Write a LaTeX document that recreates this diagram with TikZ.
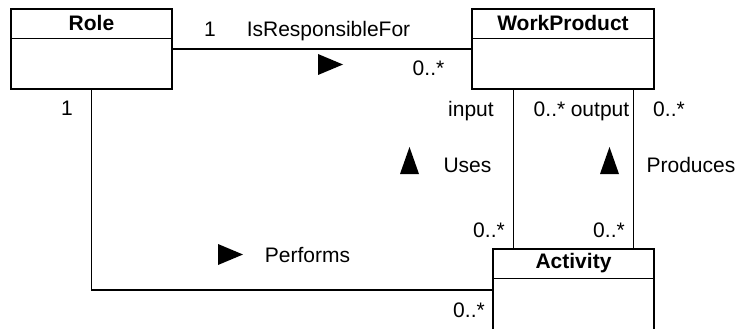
\documentclass[tikz,border=0pt]{standalone}
\usepackage{fontspec}
\setmainfont{Liberation Sans}
\usetikzlibrary{positioning}

\tikzset{
  umlclass/.style={draw, line width=1.5pt, minimum height=80pt, inner sep=0pt},
  clsname/.style={minimum height=30pt, inner sep=0pt, font=\fontsize{21}{25}\selectfont\bfseries},
  assoc/.style={line width=1.4pt},
  lbl/.style={inner sep=0pt, anchor=base, font=\fontsize{21}{25}\selectfont},
}

\begin{document}
\begin{tikzpicture}[x=1pt, y=-1pt]
        \useasboundingbox (0,0) rectangle (740,329);

        % 三个类框
        \node[umlclass, minimum width=161pt] (role) at (91.5,49) {};
        \node[umlclass, minimum width=182pt] (wp) at (563,49) {};
        \node[umlclass, minimum width=161pt, minimum height=82pt] (act) at (573.5,290) {};

        % 类名和分隔线
        \foreach \cls/\txt in {role/Role, wp/WorkProduct, act/Activity}
            {
                \node[clsname, below=0pt of \cls.north] (\cls-name) {\txt};
                \draw[assoc] (\cls-name.south -| \cls.west) -- (\cls-name.south -| \cls.east);
            }

        % 关联线
        \coordinate (uses-end) at ([xshift=21pt]act.north west);
        \coordinate (prod-end) at ([xshift=-21pt]act.north east);
        \draw[assoc] (role.east) -- (wp.west);
        \draw[assoc] (role.south) |- (act.west);
        \draw[assoc] (uses-end) -- (uses-end |- wp.south);
        \draw[assoc] (prod-end) -- (prod-end |- wp.south);

        % 方向三角
        \foreach \x/\y in {318/54, 218/244}
            \fill (\x,\y) -- ++(25,10.5) -- ++(-25,10.5) -- cycle;
        \foreach \x in {400, 600}
            \fill (\x,174) -- ++(9.5,-27) -- ++(9.5,27) -- cycle;

        % 角色名和多重性
        \node[lbl] (resp-mult) at (210,37) {1};
        \node[lbl] (resp) at (328.5,37) {IsResponsibleFor};
        \node[lbl] (resp-multwp) at (428.5,76) {0..*};
        \node[lbl] (perf-mult) at (67,116) {1};
        \node[lbl] (input) at (471,117) {input};
        \node[lbl] (uses-mult) at (549.5,117) {0..*};
        \node[lbl] (output) at (600,117) {output};
        \node[lbl] (prod-mult) at (669,117) {0..*};
        \node[lbl] (uses) at (467.5,172) {Uses};
        \node[lbl] (prod) at (691,172) {Produces};
        \node[lbl] (uses-multact) at (489,237) {0..*};
        \node[lbl] (prod-multact) at (609,237) {0..*};
        \node[lbl] (perf) at (307.5,262) {Performs};
        \node[lbl] (perf-multact) at (469,317) {0..*};

    \end{tikzpicture}
\end{document}
